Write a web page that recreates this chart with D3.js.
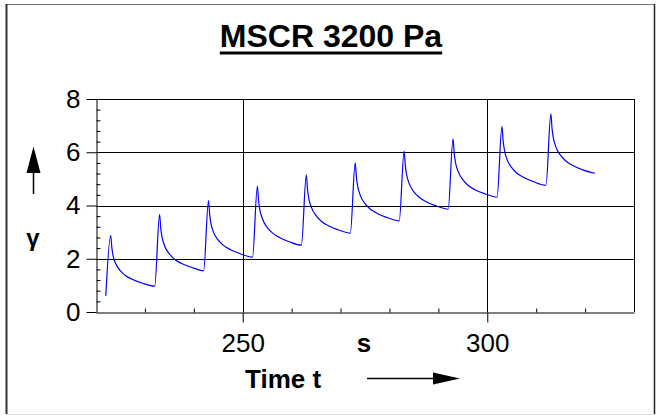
<html>
<head>
<style>
  body { margin: 0; background: #fff; }
  svg text { font-family: "Liberation Sans", Arial, sans-serif; }
</style>
<script src="https://d3js.org/d3.v7.min.js"></script>
</head>
<body>
<svg width="656" height="415"></svg>
<script>
// creep/recovery cycles: start time of each cycle (s)
const cycleStarts = [222, 232, 242, 252, 262, 272, 282, 292, 302, 312];
// time offsets within one cycle at which the curve was read (s)
const sampleOffsets = [0, 1, 1.25, 1.5, 2, 3, 4, 5.5, 7.5, 10];
// strain, one row per cycle
const strainC1  = [0.61, 2.87, 2.40, 2.11, 1.83, 1.54, 1.37, 1.22, 1.08, 0.97];
const strainC2  = [0.97, 3.66, 3.13, 2.82, 2.50, 2.18, 1.99, 1.82, 1.68, 1.55];
const strainC3  = [1.55, 4.18, 3.65, 3.33, 3.01, 2.70, 2.51, 2.34, 2.19, 2.06];
const strainC4  = [2.06, 4.73, 4.17, 3.84, 3.51, 3.18, 2.98, 2.80, 2.64, 2.51];
const strainC5  = [2.51, 5.15, 4.60, 4.27, 3.95, 3.62, 3.42, 3.24, 3.09, 2.96];
const strainC6  = [2.96, 5.60, 5.05, 4.73, 4.40, 4.07, 3.88, 3.70, 3.55, 3.42];
const strainC7  = [3.42, 6.04, 5.49, 5.17, 4.84, 4.51, 4.32, 4.14, 3.99, 3.86];
const strainC8  = [3.86, 6.50, 5.95, 5.62, 5.30, 4.97, 4.77, 4.59, 4.44, 4.31];
const strainC9  = [4.31, 6.97, 6.42, 6.09, 5.75, 5.42, 5.22, 5.05, 4.89, 4.76];
const strainC10 = [4.76, 7.44, 6.88, 6.55, 6.21, 5.88, 5.68, 5.50, 5.34, 5.21];
const cycles = [strainC1, strainC2, strainC3, strainC4, strainC5,
                strainC6, strainC7, strainC8, strainC9, strainC10];

const xMajor = [250, 300];
const xMinor = [230, 240, 260, 270, 280, 290, 310, 320];
const yMajor = [0, 2, 4, 6, 8];
const yMinor = [0.4, 0.8, 1.2, 1.6, 2.4, 2.8, 3.2, 3.6, 4.4, 4.8, 5.2, 5.6, 6.4, 6.8, 7.2, 7.6];

const svg = d3.select("svg");
const pLeft = 96, pRight = 634, pTop = 99, pBottom = 312;

const x = d3.scaleLinear().domain([220, 330]).range([pLeft, pRight]);
const y = d3.scaleLinear().domain([0, 8]).range([pBottom, pTop]);

// outer frame
svg.append("line").attr("x1", 6).attr("x2", 654).attr("y1", 4.5).attr("y2", 4.5).attr("stroke", "#777");
svg.append("line").attr("x1", 6.5).attr("x2", 6.5).attr("y1", 4).attr("y2", 414).attr("stroke", "#333").attr("stroke-width", 2);
svg.append("line").attr("x1", 654.5).attr("x2", 654.5).attr("y1", 4).attr("y2", 414).attr("stroke", "#222").attr("stroke-width", 1.5);
svg.append("line").attr("x1", 6).attr("x2", 655).attr("y1", 414.5).attr("y2", 414.5).attr("stroke", "#ddd");

// title
const title = svg.append("text")
  .attr("x", 331).attr("y", 47)
  .attr("text-anchor", "middle")
  .attr("font-size", 32).attr("font-weight", "bold")
  .text("MSCR 3200 Pa");
const tw = title.node().getComputedTextLength();
svg.append("rect").attr("x", 331 - tw / 2).attr("y", 51.5).attr("width", tw).attr("height", 3).attr("fill", "#000");

// grid
const grid = svg.append("g").attr("shape-rendering", "crispEdges");
grid.selectAll(".hg").data([2, 4, 6, 8]).enter().append("line")
  .attr("x1", pLeft).attr("x2", pRight)
  .attr("y1", d => Math.round(y(d)) + 0.5).attr("y2", d => Math.round(y(d)) + 0.5)
  .attr("stroke", "#000");
grid.selectAll(".vg").data(xMajor.concat([330])).enter().append("line")
  .attr("y1", pTop).attr("y2", pBottom)
  .attr("x1", d => Math.round(x(d)) + 0.5).attr("x2", d => Math.round(x(d)) + 0.5)
  .attr("stroke", "#000");

// axes
const yAx = svg.append("g").attr("transform", "translate(" + (pLeft + 0.5) + ",0)")
  .call(d3.axisLeft(y).tickValues(yMajor).tickSize(10).tickPadding(6).tickSizeOuter(0));
yAx.selectAll("text").attr("font-size", 26).attr("font-family", "Liberation Sans, Arial, sans-serif").attr("fill", "#000");
svg.append("g").attr("transform", "translate(" + (pLeft + 0.5) + ",0)")
  .call(d3.axisRight(y).tickValues(yMinor).tickSize(4).tickFormat("").tickSizeOuter(0))
  .select(".domain").remove();

const xAx = svg.append("g").attr("transform", "translate(0," + (pBottom + 0.5) + ")")
  .call(d3.axisBottom(x).tickValues(xMajor).tickSize(10).tickPadding(11).tickSizeOuter(0));
xAx.selectAll("text").attr("font-size", 26).attr("font-family", "Liberation Sans, Arial, sans-serif").attr("fill", "#000");
svg.append("g").attr("transform", "translate(0," + (pBottom + 0.5) + ")")
  .call(d3.axisTop(x).tickValues(xMinor).tickSize(4).tickFormat("").tickSizeOuter(0))
  .select(".domain").remove();
svg.selectAll(".tick line").attr("stroke", "#000");
svg.selectAll(".domain").attr("stroke", "#000");

// data line
const points = [];
cycles.forEach((vals, i) => {
  vals.forEach((v, j) => {
    if (i > 0 && j === 0) return;
    points.push([cycleStarts[i] + sampleOffsets[j], v]);
  });
});
const line = d3.line().x(d => x(d[0])).y(d => y(d[1])).curve(d3.curveMonotoneX);
svg.append("path").datum(points)
  .attr("d", line).attr("fill", "none")
  .attr("stroke", "#0000ff").attr("stroke-width", 1.2);

// axis titles
svg.append("text").attr("x", 364).attr("y", 352).attr("text-anchor", "middle")
  .attr("font-size", 26).attr("font-weight", "bold").text("s");
svg.append("text").attr("x", 245).attr("y", 388)
  .attr("font-size", 26).attr("font-weight", "bold").text("Time t");
svg.append("line").attr("x1", 367).attr("x2", 436).attr("y1", 378.5).attr("y2", 378.5)
  .attr("stroke", "#000").attr("stroke-width", 1.3);
svg.append("path").attr("d", "M433,372.5 L460,378.5 L433,384.5 Z").attr("fill", "#000");

svg.append("text").attr("x", 33).attr("y", 246).attr("text-anchor", "middle")
  .attr("font-size", 24).attr("font-weight", "bold").text("γ");
svg.append("line").attr("x1", 33.5).attr("x2", 33.5).attr("y1", 170).attr("y2", 194)
  .attr("stroke", "#000").attr("stroke-width", 1.5);
svg.append("path").attr("d", "M33.5,146.5 L40.5,173 L26.5,173 Z").attr("fill", "#000");
</script>
</body>
</html>
